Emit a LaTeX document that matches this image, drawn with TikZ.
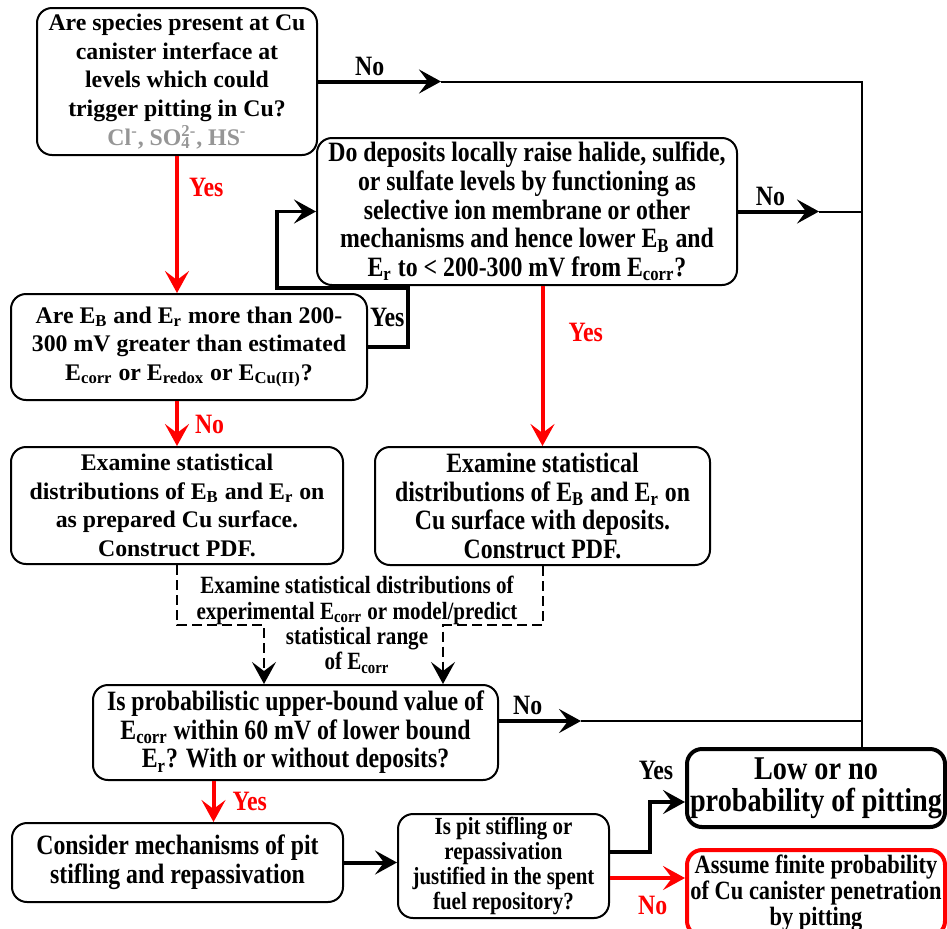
\documentclass[tikz,border=0pt]{standalone}
\usepackage{fontspec}
\setmainfont{Liberation Serif}
\newfontfamily\narrowfont{Liberation Serif}[FakeStretch=0.85]
\usetikzlibrary{arrows.meta}
\definecolor{cgrey}{RGB}{150,150,150}
\newcommand{\Es}[1]{E\textsubscript{#1}}
\begin{document}
\begin{tikzpicture}[x=0.5pt, y=-0.5pt,
  >={Stealth[length=11pt,width=12pt,inset=4.5pt]},
  box/.style={draw, line width=1pt, rounded corners=7.5pt, align=center, inner sep=0pt},
  wide/.style={font=\bfseries\fontsize{11.9}{14.3}\selectfont},
  narrow/.style={font=\narrowfont\bfseries\fontsize{14}{14.3}\selectfont},
  lbl/.style={font=\narrowfont\bfseries\fontsize{14}{14}\selectfont, inner sep=2pt},
  flow/.style={->, line width=2pt},
  redflow/.style={->, line width=2pt, red},
  loopflow/.style={->, line width=1.6pt},
  railline/.style={line width=1pt},
  dashflow/.style={->, line width=1pt, dash pattern=on 5pt off 2.5pt}]
\useasboundingbox (0,0) rectangle (947,928);
\draw (177,81.5) node[box, wide, minimum width=140pt, minimum height=73.5pt] (q1)
  {Are species present at Cu\\canister interface at\\levels which could\\trigger pitting in Cu?\\
   \textcolor{cgrey}{Cl\textsuperscript{-}, SO\rlap{\textsubscript{4}}\textsuperscript{2-}, HS\textsuperscript{-}}};
\draw (527,211.5) node[box, narrow, minimum width=210pt, minimum height=73.5pt] (q2)
  {Do deposits locally raise halide, sulfide,\\or sulfate levels by functioning as\\selective ion membrane or other\\
   mechanisms and hence lower \Es{B} and\\\Es{r} to < 200-300 mV from \Es{corr}?};
\draw (189,347) node[box, wide, minimum width=178pt, minimum height=53pt] (q3)
  {Are \Es{B} and \Es{r} more than 200-\\300 mV greater than estimated\\\Es{corr} or \Es{redox} or \Es{Cu(II)}?};
\draw (177,505.5) node[box, wide, minimum width=166pt, minimum height=58.5pt] (a1)
  {Examine statistical\\distributions of \Es{B} and \Es{r} on\\as prepared Cu surface.\\Construct PDF.};
\draw (542.5,506) node[box, narrow, minimum width=167.5pt, minimum height=59pt] (a2)
  {Examine statistical\\distributions of \Es{B} and \Es{r} on\\Cu surface with deposits.\\Construct PDF.};
\draw (357,625) node[align=center, inner sep=0pt, font=\narrowfont\bfseries\fontsize{12.4}{12.7}\selectfont] (dtxt)
  {Examine statistical distributions of\\experimental \Es{corr} or model/predict\\statistical range\\of \Es{corr}};
\draw (295.5,732.5) node[box, narrow, minimum width=202.5pt, minimum height=47.5pt] (q4)
  {Is probabilistic upper-bound value of\\\Es{corr} within 60 mV of lower bound\\\Es{r}? With or without deposits?};
\draw (177.5,862.5) node[box, narrow, minimum width=165.5pt, minimum height=39.5pt] (a3)
  {Consider mechanisms of pit\\stifling and repassivation};
\draw (503.5,866) node[box, minimum width=105.5pt, minimum height=52pt,
  font=\narrowfont\bfseries\fontsize{12.3}{12.35}\selectfont] (q5)
  {Is pit stifling or\\repassivation\\justified in the spent\\fuel repository?};
\draw (816,788) node[box, line width=2pt, minimum width=129pt, minimum height=39pt,
  font=\narrowfont\bfseries\fontsize{16.6}{16}\selectfont] (low)
  {Low or no\\probability of pitting};
\draw (816,893) node[box, draw=red, line width=2pt, minimum width=129pt, minimum height=43pt,
  font=\narrowfont\bfseries\fontsize{13.2}{12.8}\selectfont] (fin)
  {Assume finite probability\\of Cu canister penetration\\by pitting};
\coordinate (rail) at (862,81.5);
\draw[flow] (q1.east) -- node[lbl, above, pos=0.42] {No} ++(123,0) coordinate (h1);
\draw[railline] (h1) -- (rail) -- (rail |- low.north);
\draw[flow] (q2.east) -- node[lbl, above, pos=0.4] {No} ++(81,0) coordinate (h2);
\draw[railline] (h2) -- (h2 -| rail);
\draw[flow] ([yshift=5.75pt]q4.east) -- node[lbl, above, pos=0.35] {No} ++(82,0) coordinate (h3);
\draw[railline] (h3) -- (h3 -| rail);
\draw[redflow] (q1.south) -- node[lbl, red, right, pos=0.23, xshift=3pt] {Yes} (q1.south |- q3.north);
\draw[redflow] (a1.north |- q3.south) -- node[lbl, red, right, pos=0.53, xshift=6pt] {No} (a1.north);
\draw[redflow] (a2.north |- q2.south) -- node[lbl, red, right, pos=0.29, xshift=10pt] {Yes} (a2.north);
\coordinate (yx) at ([xshift=18pt]a3.north);
\draw[redflow] (yx |- q4.south) -- node[lbl, red, right, pos=0.5, xshift=6.5pt] {Yes} (yx);
\coordinate (la) at (408,288);
\coordinate (lb) at (277,288);
\draw[loopflow] (q3.east) -| node[lbl, left, pos=0.75, inner sep=1pt] {Yes} (la) -- (lb) |- (q2.west);
\coordinate (dl) at (264,625);
\coordinate (dr) at (443,625);
\draw[dashflow] (a1.south) |- (dl) -- (dl |- q4.north);
\draw[dashflow] (a2.south) |- (dr) -- (dr |- q4.north);
\draw[flow] (a3.east) -- (a3.east -| q5.west);
\coordinate (ys) at ([yshift=7pt]q5.east);
\coordinate (ns) at ([yshift=-6pt]q5.east);
\draw[flow, line width=1.75pt] (ys) -- ++(40,0) |- node[lbl, pos=0.5, anchor=south, xshift=3pt, yshift=8pt] {Yes} ([yshift=-7pt]low.west);
\draw[redflow] (ns) -- node[lbl, red, below, pos=0.57, yshift=-6pt] {No} (ns -| fin.west);
\end{tikzpicture}
\end{document}
